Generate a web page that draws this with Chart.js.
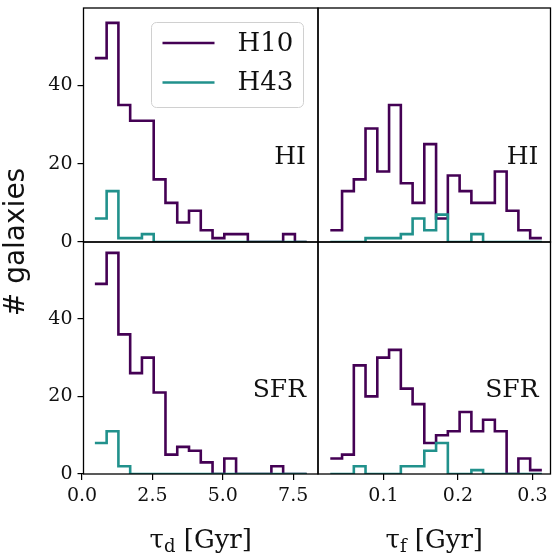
<!DOCTYPE html>
<html>
<head>
<meta charset="utf-8">
<script src="https://cdn.jsdelivr.net/npm/chart.js@4.4.0/dist/chart.umd.min.js"></script>
<style>
  html, body { margin: 0; padding: 0; background: #fff; }
  #wrap { position: relative; width: 552px; height: 554px; }
  #wrap canvas { position: absolute; left: 0; top: 0; }
</style>
</head>
<body>
<div id="wrap">
  <canvas id="hiTd" width="552" height="554"></canvas>
  <canvas id="hiTf" width="552" height="554"></canvas>
  <canvas id="sfrTd" width="552" height="554"></canvas>
  <canvas id="sfrTf" width="552" height="554"></canvas>
</div>
<script>
// ============================================
// DATA
// ============================================

const seriesNames = ['H10', 'H43'];

// histogram bin edges (Gyr)
const tdEdges = [0.454, 0.872, 1.290, 1.708, 2.126, 2.544, 2.962, 3.380, 3.798, 4.216,
                 4.634, 5.052, 5.470, 5.888, 6.306, 6.724, 7.142, 7.560, 7.978];
const tfEdges = [0.0287, 0.0445, 0.0603, 0.0760, 0.0918, 0.1076, 0.1234, 0.1392, 0.1549, 0.1707,
                 0.1865, 0.2023, 0.2181, 0.2338, 0.2496, 0.2654, 0.2812, 0.2970, 0.3127];

// counts per bin
const hiTdH10  = [47, 56, 35, 31, 31, 16, 10, 5, 8, 3, 1, 2, 2, 0, 0, 0, 2, 0];
const hiTdH43  = [6, 13, 1, 1, 2, 0, 0, 0, 0, 0, 0, 0, 0, 0, 0, 0, 0, 0];
const sfrTdH10 = [49, 57, 36, 26, 30, 21, 5, 7, 6, 3, 0, 4, 0, 0, 0, 2, 0, 0];
const sfrTdH43 = [8, 11, 2, 0, 0, 0, 0, 0, 0, 0, 0, 0, 0, 0, 0, 0, 0, 0];
const hiTfH10  = [3, 13, 16, 29, 18, 35, 15, 10, 25, 6, 17, 13, 10, 10, 18, 8, 3, 1];
const hiTfH43  = [0, 0, 0, 1, 1, 1, 2, 6, 3, 7, 0, 0, 2, 0, 0, 0, 0, 0];
const sfrTfH10 = [4, 5, 28, 20, 30, 32, 22, 18, 8, 10, 11, 16, 11, 14, 11, 0, 4, 1];
const sfrTfH43 = [0, 0, 2, 0, 0, 0, 2, 2, 6, 8, 0, 0, 1, 0, 0, 0, 0, 0];

// ticks
const yTicks  = [0, 20, 40];
const tdTicks = [0, 2.5, 5, 7.5];
const tfTicks = [0.1, 0.2, 0.3];

// ============================================
// STYLE / LAYOUT
// ============================================

const COLORS = ['#440154', '#21918c'];
const SERIF = '"DejaVu Serif", serif';
const SANS = '"DejaVu Sans", sans-serif';
const TEXT = '#111';

const W = 552, H = 554;
const colLeft = 83.5, colMid = 318, colRight = 550.5;
const rowTop = 8, rowMid = 242, rowBottom = 474;
const Y_AXIS_W = 60, X_AXIS_H = 40;

Chart.defaults.font.family = SERIF;
Chart.defaults.color = TEXT;

// step outline: each count held from its left edge to the next edge
function stepPoints(edges, counts) {
    const pts = counts.map((c, i) => ({ x: edges[i], y: c }));
    pts.push({ x: edges[edges.length - 1], y: counts[counts.length - 1] });
    return pts;
}

// fixed axis size, no extra label padding (keeps the panels edge to edge)
function fixSize(s, size) {
    if (s.isHorizontal()) s.height = s.options.display ? size : 0;
    else s.width = s.options.display ? size : 0;
    s.paddingTop = s.paddingBottom = s.paddingLeft = s.paddingRight = 0;
}

// spine box + panel tag
const panelPlugin = {
    id: 'panel',
    afterDatasetsDraw(chart, args, opts) {
        const { ctx, chartArea: a } = chart;
        ctx.save();
        ctx.strokeStyle = '#000';
        ctx.lineWidth = 1.3;
        ctx.strokeRect(a.left, a.top, a.right - a.left, a.bottom - a.top);
        ctx.fillStyle = TEXT;
        ctx.font = '25px ' + SERIF;
        ctx.textAlign = 'right';
        ctx.textBaseline = 'middle';
        ctx.fillText(opts.tag, a.right - 12, a.top + 0.64 * (a.bottom - a.top));
        ctx.restore();
    }
};

// legend box inside the top-left panel + shared y title
const legendPlugin = {
    id: 'boxLegend',
    afterDraw(chart, args, opts) {
        if (!opts.show) return;
        const { ctx, chartArea: a } = chart;
        const x0 = a.left + 68, y0 = a.top + 14.5, bw = 152, bh = 85;
        ctx.save();
        ctx.beginPath();
        ctx.roundRect(x0, y0, bw, bh, 5);
        ctx.fillStyle = 'rgba(255,255,255,0.8)';
        ctx.fill();
        ctx.strokeStyle = '#d0d0d0';
        ctx.lineWidth = 1;
        ctx.stroke();
        ctx.font = '26px ' + SERIF;
        ctx.textBaseline = 'middle';
        ctx.textAlign = 'left';
        seriesNames.forEach((name, i) => {
            const y = y0 + 20.5 + i * 39.5;
            ctx.strokeStyle = COLORS[i];
            ctx.lineWidth = 2.6;
            ctx.beginPath();
            ctx.moveTo(x0 + 11, y);
            ctx.lineTo(x0 + 63, y);
            ctx.stroke();
            ctx.fillStyle = TEXT;
            ctx.fillText(name, x0 + 86, y + 1);
        });
        // y title spanning both rows
        ctx.translate(17, rowMid);
        ctx.rotate(-Math.PI / 2);
        ctx.font = '28px ' + SANS;
        ctx.textAlign = 'center';
        ctx.fillText('# galaxies', 0, 0);
        ctx.restore();
    }
};

// x title with subscript, e.g. τ_d [Gyr]
const xTitlePlugin = {
    id: 'xTitle',
    afterDraw(chart, args, opts) {
        if (!opts.sub) return;
        const { ctx, chartArea: a } = chart;
        const big = '26px ' + SERIF, small = '18px ' + SERIF;
        ctx.save();
        ctx.fillStyle = TEXT;
        ctx.textBaseline = 'alphabetic';
        ctx.textAlign = 'left';
        ctx.font = big;
        const w1 = ctx.measureText('\u03c4').width;
        const w3 = ctx.measureText(' [Gyr]').width;
        ctx.font = small;
        const w2 = ctx.measureText(opts.sub).width;
        let x = (a.left + a.right) / 2 - (w1 + w2 + w3) / 2;
        const y = 548;
        ctx.font = big;
        ctx.fillText('\u03c4', x, y);
        x += w1;
        ctx.font = small;
        ctx.fillText(opts.sub, x, y + 4);
        x += w2;
        ctx.font = big;
        ctx.fillText(' [Gyr]', x, y);
        ctx.restore();
    }
};

function makePanel(id, cfg) {
    const ctx = document.getElementById(id);
    const showX = cfg.showX, showY = cfg.showY;
    const padLeft = cfg.left - (showY ? Y_AXIS_W : 0);
    const padBottom = H - cfg.bottom - (showX ? X_AXIS_H : 0);

    return new Chart(ctx, {
        type: 'line',
        data: {
            datasets: [
                {
                    label: seriesNames[0],
                    data: stepPoints(cfg.edges, cfg.h10),
                    borderColor: COLORS[0],
                    order: 1
                },
                {
                    label: seriesNames[1],
                    data: stepPoints(cfg.edges, cfg.h43),
                    borderColor: COLORS[1],
                    order: 0
                }
            ]
        },
        options: {
            responsive: false,
            animation: false,
            events: [],
            layout: {
                padding: { left: padLeft, top: cfg.top, right: W - cfg.right, bottom: padBottom }
            },
            elements: {
                line: { borderWidth: 2.6, stepped: true, tension: 0, fill: false, borderCapStyle: 'butt' },
                point: { radius: 0 }
            },
            plugins: {
                legend: { display: false },
                tooltip: { enabled: false },
                panel: { tag: cfg.tag },
                boxLegend: { show: !!cfg.legend },
                xTitle: { sub: showX ? cfg.sub : null }
            },
            scales: {
                x: {
                    type: 'linear',
                    min: cfg.xMin,
                    max: cfg.xMax,
                    display: showX,
                    afterFit: s => fixSize(s, X_AXIS_H),
                    afterBuildTicks: s => { s.ticks = cfg.xTicks.map(v => ({ value: v })); },
                    border: { display: false },
                    grid: { drawOnChartArea: false, drawTicks: true, tickLength: 6, color: '#000', lineWidth: 1.2 },
                    ticks: {
                        padding: 5,
                        maxRotation: 0,
                        font: { size: 19 },
                        color: TEXT,
                        callback: v => v.toFixed(1)
                    }
                },
                y: {
                    type: 'linear',
                    min: 0,
                    max: 59.8,
                    display: showY,
                    afterFit: s => fixSize(s, Y_AXIS_W),
                    afterBuildTicks: s => { s.ticks = yTicks.map(v => ({ value: v })); },
                    border: { display: false },
                    grid: { drawOnChartArea: false, drawTicks: true, tickLength: 6, color: '#000', lineWidth: 1.2 },
                    ticks: {
                        padding: 5,
                        font: { size: 19 },
                        color: TEXT,
                        callback: v => String(v)
                    }
                }
            }
        },
        plugins: [panelPlugin, legendPlugin, xTitlePlugin]
    });
}

makePanel('hiTd', {
    edges: tdEdges, h10: hiTdH10, h43: hiTdH43, tag: 'HI', legend: true,
    xMin: 0.05, xMax: 8.38, xTicks: tdTicks, sub: 'd',
    left: colLeft, right: colMid, top: rowTop, bottom: rowMid, showX: false, showY: true
});
makePanel('hiTf', {
    edges: tfEdges, h10: hiTfH10, h43: hiTfH43, tag: 'HI',
    xMin: 0.0122, xMax: 0.3243, xTicks: tfTicks, sub: 'f',
    left: colMid, right: colRight, top: rowTop, bottom: rowMid, showX: false, showY: false
});
makePanel('sfrTd', {
    edges: tdEdges, h10: sfrTdH10, h43: sfrTdH43, tag: 'SFR',
    xMin: 0.05, xMax: 8.38, xTicks: tdTicks, sub: 'd',
    left: colLeft, right: colMid, top: rowMid, bottom: rowBottom, showX: true, showY: true
});
makePanel('sfrTf', {
    edges: tfEdges, h10: sfrTfH10, h43: sfrTfH43, tag: 'SFR',
    xMin: 0.0122, xMax: 0.3243, xTicks: tfTicks, sub: 'f',
    left: colMid, right: colRight, top: rowMid, bottom: rowBottom, showX: true, showY: false
});
</script>
</body>
</html>
